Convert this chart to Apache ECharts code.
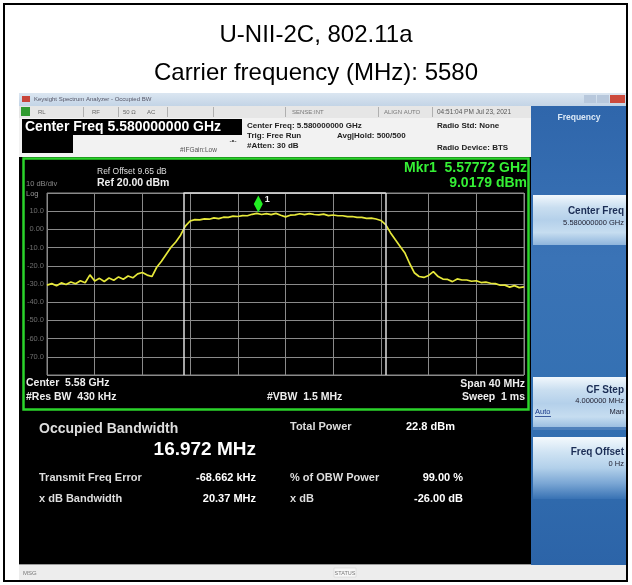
<!DOCTYPE html>
<html>
<head>
<meta charset="utf-8">
<script src="https://cdn.jsdelivr.net/npm/echarts@6/dist/echarts.min.js"></script>
<style>
  html, body { margin: 0; padding: 0; background: #fff; }
  #chart { width: 632px; height: 585px; }
</style>
</head>
<body>
<div id="chart"></div>
<script>
// values
const titleLines = ['U-NII-2C, 802.11a', 'Carrier frequency (MHz): 5580'];
const centerMHz = 5580;
const spanMHz = 40;
const refLevelDbm = 20;
const dbPerDiv = 10;
const traceStartMHz = 5560;
const traceStepMHz = 0.4;
const traceDbm = [
  -30.6, -29.8, -31.0, -29.4, -30.3, -28.9, -29.9, -28.2, -29.3, -25.0,
  -28.3, -26.9, -28.6, -26.7, -27.9, -26.1, -27.4, -25.6, -26.6, -24.4,
  -23.7, -25.1, -25.9, -20.8, -17.5, -13.6, -9.8, -6.9, -3.2, 1.8,
  4.6, 5.4, 5.2, 5.8, 5.6, 6.3, 5.9, 6.7, 6.6, 7.3,
  7.1, 7.6, 7.5, 8.3, 8.8, 8.2, 8.7, 8.1, 8.8, 7.8,
  6.9, 7.8, 8.0, 8.6, 8.1, 8.7, 8.2, 8.0, 8.4, 7.6,
  7.9, 7.5, 7.5, 7.0, 7.1, 6.6, 6.6, 6.1, 6.2, 5.7,
  4.9, 2.6, -1.8, -5.6, -9.2, -12.8, -18.6, -23.8, -25.9, -26.4,
  -25.3, -23.2, -25.9, -27.3, -27.5, -28.7, -27.2, -27.8, -27.8, -28.5,
  -28.2, -29.2, -29.0, -29.6, -29.8, -30.7, -30.6, -31.7, -30.9, -32.0,
  -31.6
];
const markerMHz = 5577.72;
const markerDbm = 9.0179;
const obwMHz = 16.972;
const freqErrorKHz = -68.662;
const yTickText = { 10: '10.0', 0: '0.00', '-10': '-10.0', '-20': '-20.0', '-30': '-30.0',
  '-40': '-40.0', '-50': '-50.0', '-60': '-60.0', '-70': '-70.0' };
const measLeft = [['Transmit Freq Error', '-68.662 kHz'], ['x dB Bandwidth', '20.37 MHz']];
const measRight = [['% of OBW Power', '99.00 %'], ['x dB', '-26.00 dB']];

const chart = echarts.init(document.getElementById('chart'));

const F = '"Liberation Sans", Arial, sans-serif';
const obwCenter = centerMHz + freqErrorKHz / 1000;
const obwLo = obwCenter - obwMHz / 2;
const obwHi = obwCenter + obwMHz / 2;

function rect(x, y, w, h, fill, extra) {
  return Object.assign({ type: 'rect', z: -5, silent: true,
    shape: { x: x, y: y, width: w, height: h }, style: { fill: fill } }, extra || {});
}
function txt(x, y, text, font, fill, align) {
  return { type: 'text', z: 10, silent: true, x: x, y: y,
    style: { text: text, font: font, fill: fill, textAlign: align || 'left', textVerticalAlign: 'middle' } };
}
function vgrad(stops) {
  return new echarts.graphic.LinearGradient(0, 0, 0, 1, stops.map(function (c, i) {
    return { offset: i / (stops.length - 1), color: c };
  }));
}

const g = [];
// page frame and titles
g.push({ type: 'rect', z: 20, silent: true, shape: { x: 4, y: 4, width: 623, height: 577 },
  style: { fill: null, stroke: '#000', lineWidth: 2 } });
g.push(txt(316, 35, titleLines[0], '24px ' + F, '#000', 'center'));
g.push(txt(316, 73, titleLines[1], '24px ' + F, '#000', 'center'));

// window title bar + status row
g.push(rect(19, 93, 609, 13, vgrad(['#dbe6f1', '#c3d4e6'])));
g.push(rect(22, 96, 8, 6, '#c8453a'));
g.push(txt(34, 99.5, 'Keysight Spectrum Analyzer - Occupied BW', '6px ' + F, '#556'));
g.push(rect(584, 95, 12, 8, '#b8c8dc'));
g.push(rect(597, 95, 12, 8, '#b8c8dc'));
g.push(rect(610, 95, 15, 8, '#cc4a3c'));
g.push(rect(19, 106, 512, 12, '#e6e6e6'));
g.push(rect(21, 107, 9, 9, '#2f9a2f'));
g.push(txt(38, 112, 'RL', '6px ' + F, '#666'));
g.push(txt(92, 112, 'RF', '6px ' + F, '#666'));
g.push(txt(123, 112, '50 Ω', '6px ' + F, '#666'));
g.push(txt(147, 112, 'AC', '6px ' + F, '#666'));
g.push(txt(292, 112, 'SENSE:INT', '6px ' + F, '#777'));
g.push(txt(384, 112, 'ALIGN AUTO', '6px ' + F, '#777'));
g.push(txt(437, 112, '04:51:04 PM Jul 23, 2021', '6.5px ' + F, '#555'));
[83, 118, 167, 213, 285, 378, 432].forEach(function (x) {
  g.push(rect(x, 107, 1, 10, '#b0b0b0'));
});

// header area
g.push(rect(19, 118, 512, 39, '#f2f2f2'));
g.push(rect(22, 119, 220, 16, '#000'));
g.push(txt(25, 127.5, 'Center Freq 5.580000000 GHz', 'bold 14px ' + F, '#fff'));
g.push(rect(22, 135, 51, 18, '#000'));
g.push(txt(180, 150, '#IFGain:Low', '6.5px ' + F, '#555'));
g.push(txt(233, 141, '-•-', '7px ' + F, '#333', 'center'));
g.push(txt(247, 126, 'Center Freq: 5.580000000 GHz', 'bold 8px ' + F, '#222'));
g.push(txt(247, 136, 'Trig: Free Run', 'bold 8px ' + F, '#222'));
g.push(txt(337, 136, 'Avg|Hold: 500/500', 'bold 8px ' + F, '#222'));
g.push(txt(247, 146, '#Atten: 30 dB', 'bold 8px ' + F, '#222'));
g.push(txt(437, 126, 'Radio Std: None', 'bold 8px ' + F, '#222'));
g.push(txt(437, 148, 'Radio Device: BTS', 'bold 8px ' + F, '#222'));

// instrument display
g.push(rect(19, 157, 512, 408, '#000'));
g.push({ type: 'rect', z: 5, silent: true, shape: { x: 23.5, y: 158.5, width: 505, height: 251 },
  style: { fill: null, stroke: '#2bd42b', lineWidth: 2.5 } });
g.push(txt(97, 172, 'Ref Offset 9.65 dB', '8.5px ' + F, '#ddd'));
g.push(txt(97, 183, 'Ref 20.00 dBm', 'bold 10.5px ' + F, '#eee'));
g.push(txt(26, 184, '10 dB/div', '7.5px ' + F, '#888'));
g.push(txt(26, 194, 'Log', '7.5px ' + F, '#999'));
g.push(txt(527, 168, 'Mkr1  5.57772 GHz', 'bold 14px ' + F, '#35f035', 'right'));
g.push(txt(527, 183, '9.0179 dBm', 'bold 14px ' + F, '#35f035', 'right'));
g.push(txt(26, 383, 'Center  5.58 GHz', 'bold 10.5px ' + F, '#eee'));
g.push(txt(26, 397, '#Res BW  430 kHz', 'bold 10.5px ' + F, '#eee'));
g.push(txt(267, 397, '#VBW  1.5 MHz', 'bold 10.5px ' + F, '#eee'));
g.push(txt(525, 384, 'Span 40 MHz', 'bold 10.5px ' + F, '#eee', 'right'));
g.push(txt(525, 397, 'Sweep  1 ms', 'bold 10.5px ' + F, '#eee', 'right'));

// measurement results
g.push(txt(39, 429, 'Occupied Bandwidth', 'bold 14px ' + F, '#ddd'));
g.push(txt(256, 450, obwMHz.toFixed(3) + ' MHz', 'bold 19px ' + F, '#fff', 'right'));
g.push(txt(290, 427, 'Total Power', 'bold 11px ' + F, '#ddd'));
g.push(txt(406, 427, '22.8 dBm', 'bold 11px ' + F, '#fff'));
measLeft.forEach(function (r, i) {
  g.push(txt(39, 478 + i * 21, r[0], 'bold 11px ' + F, '#ddd'));
  g.push(txt(256, 478 + i * 21, r[1], 'bold 11px ' + F, '#fff', 'right'));
});
measRight.forEach(function (r, i) {
  g.push(txt(290, 478 + i * 21, r[0], 'bold 11px ' + F, '#ddd'));
  g.push(txt(463, 478 + i * 21, r[1], 'bold 11px ' + F, '#fff', 'right'));
});

// status bar
g.push(rect(19, 565, 609, 16, '#ededed'));
g.push(rect(19, 564, 609, 1, '#9a9a9a'));
g.push(txt(23, 573, 'MSG', '6px ' + F, '#777'));
g.push(rect(334, 568, 22, 9, '#f7f7f7', { style: { fill: '#f7f7f7', stroke: '#ccc', lineWidth: 0.5 } }));
g.push(txt(345, 573, 'STATUS', '5.5px ' + F, '#777', 'center'));

// softkey panel
g.push(rect(531, 106, 97, 459, vgrad(['#2f66ab', '#3a73b6', '#3370b2', '#2c64a8'])));
g.push(txt(579, 118, 'Frequency', 'bold 8.5px ' + F, '#dbe8f6', 'center'));
const keyGrad = ['#f2f8fd', '#c9def0', '#b4d0ea', '#c6ddf0', '#8fb5dc'];
g.push(rect(533, 195, 93, 50, vgrad(keyGrad)));
g.push(txt(624, 211, 'Center Freq', 'bold 10px ' + F, '#1b2d55', 'right'));
g.push(txt(624, 223, '5.580000000 GHz', '7.5px ' + F, '#223', 'right'));
g.push(rect(533, 377, 93, 53, vgrad(keyGrad)));
g.push(rect(533, 427, 93, 3, '#4f80bb'));
g.push(txt(624, 390, 'CF Step', 'bold 10px ' + F, '#1b2d55', 'right'));
g.push(txt(624, 401, '4.000000 MHz', '7.5px ' + F, '#223', 'right'));
g.push(txt(535, 412, 'Auto', '7.5px ' + F, '#1a3a8a'));
g.push(rect(535, 416, 16, 0.8, '#1a3a8a'));
g.push(txt(624, 412, 'Man', '7.5px ' + F, '#223', 'right'));
g.push(rect(533, 437, 93, 62, vgrad(['#f4f9fd', '#cfe3f3', '#b2d0ea', '#7aa6d4', '#3872b4'])));
g.push(txt(624, 452, 'Freq Offset', 'bold 10px ' + F, '#1b2d55', 'right'));
g.push(txt(624, 464, '0 Hz', '7.5px ' + F, '#223', 'right'));

const traceData = traceDbm.map(function (v, i) {
  return [traceStartMHz + i * traceStepMHz, v];
});

chart.setOption({
  backgroundColor: '#fff',
  animation: false,
  graphic: g,
  grid: { left: 47, top: 193, width: 477, height: 182, show: true,
    borderColor: '#8a8a8a', borderWidth: 1, backgroundColor: 'transparent' },
  xAxis: {
    type: 'value',
    min: centerMHz - spanMHz / 2, max: centerMHz + spanMHz / 2, interval: spanMHz / 10,
    axisLine: { show: false }, axisTick: { show: false }, axisLabel: { show: false },
    splitLine: { lineStyle: { color: '#8a8a8a', width: 1 } }
  },
  yAxis: {
    type: 'value',
    min: refLevelDbm - 10 * dbPerDiv, max: refLevelDbm, interval: dbPerDiv,
    axisLine: { show: false }, axisTick: { show: false },
    axisLabel: { margin: 3, fontFamily: F, fontSize: 7.5, color: '#6f6f6f',
      formatter: function (v) { return yTickText[v] || ''; } },
    splitLine: { lineStyle: { color: '#8a8a8a', width: 1 } }
  },
  series: [{
    type: 'line',
    data: traceData,
    showSymbol: false,
    silent: true,
    lineStyle: { color: '#e6e83a', width: 1.7 },
    markLine: {
      silent: true, symbol: 'none', label: { show: false },
      lineStyle: { color: '#dcdcdc', width: 1.5, type: 'solid' },
      data: [
        { xAxis: obwLo }, { xAxis: obwHi },
        [{ coord: [obwLo, refLevelDbm] }, { coord: [obwHi, refLevelDbm] }]
      ]
    },
    markPoint: {
      silent: true,
      data: [{ coord: [markerMHz, markerDbm] }],
      symbol: 'diamond', symbolSize: [9, 17], symbolOffset: [0, -9],
      itemStyle: { color: '#22ee22' },
      label: { show: true, formatter: '1', position: 'right', distance: 2, offset: [0, -4],
        color: '#eee', fontSize: 9, fontFamily: F, fontWeight: 'bold' }
    }
  }]
});
</script>
</body>
</html>
